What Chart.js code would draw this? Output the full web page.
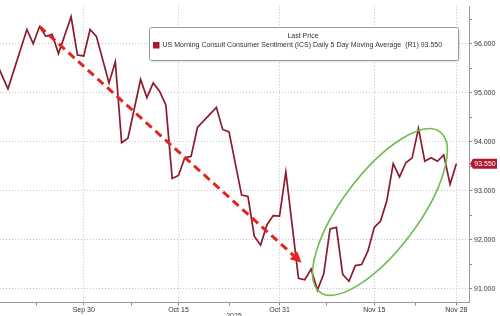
<!DOCTYPE html>
<html><head><meta charset="utf-8">
<script src="https://cdn.jsdelivr.net/npm/chart.js@4.4.0/dist/chart.umd.min.js"></script>
<style>html,body{margin:0;padding:0;background:#fff;overflow:hidden}#wrap{width:500px;height:316px;position:relative}</style>
</head><body><div id="wrap"><canvas id="c" width="500" height="316"></canvas></div>
<script>
// Day offsets relative to Sep 30, 2025
const dayOffsets = [-14,-12,-9,-8,-7,-6,-5,-4,-2,-1,0,1,2,4,5,6,7,9,10,11,12,13,14,15,16,17,18,21,22,23,25,26,27,28,29,30,31,32,34,35,36,37,38,39,40,41,42,43,44,45,46,47,48,49,50,51,52,53,54,55,56,57,58,59];
const sentiment = [95.66,95.08,96.29,96.00,96.35,96.15,96.19,95.80,96.55,95.77,95.75,96.29,96.15,95.20,95.63,93.98,94.07,95.27,94.90,95.20,95.03,94.75,93.25,93.31,93.67,93.70,94.29,94.70,94.25,94.20,92.91,92.88,92.07,91.89,92.30,92.49,92.48,93.38,91.21,91.18,91.40,90.97,91.30,92.22,92.25,91.29,91.15,91.47,91.49,91.77,92.25,92.38,92.80,93.55,93.28,93.57,93.67,94.27,93.60,93.67,93.60,93.73,93.13,93.55];
const tickDays = [0,15,31,46,59];
const tickLabels = ['Sep 30','Oct 15','Oct 31','Nov 15','Nov 28'];
const minorTickDays = [-7.5,7.5,23,38.5,52.5];
const yMajorTicks = [91,92,93,94,95,96];
const yMinorTicks = [91.5,92.5,93.5,94.5,95.5,96.5];
const lastValue = 93.550;
const legendTitle = 'Last Price';
const seriesName = 'US Morning Consult Consumer Sentiment (ICS) Daily 5 Day Moving Average  (R1) 93.550';
const yearLabel = '2025';
const arrowFrom = [-7, 96.35];
const arrowTo = [34.5, 91.53];
const ellipseTipA = [37.4, 90.93];
const ellipseTipB = [56.4, 94.20];

const FONT = '"Liberation Sans", Arial, sans-serif';

const overlay = {
  id: 'overlay',
  afterDatasetsDraw(chart) {
    const ctx = chart.ctx, xs = chart.scales.x, ys = chart.scales.y;
    const P = (p) => [xs.getPixelForValue(p[0]), ys.getPixelForValue(p[1])];
    ctx.save();
    // trend arrow
    const [x1,y1] = P(arrowFrom), [x2,y2] = P(arrowTo);
    const ang = Math.atan2(y2-y1, x2-x1);
    const headLen = 11, headW = 5.5;
    const bx = x2 - Math.cos(ang)*headLen, by = y2 - Math.sin(ang)*headLen;
    ctx.strokeStyle = '#e0261f'; ctx.lineWidth = 3; ctx.setLineDash([8,5]);
    ctx.beginPath(); ctx.moveTo(x1,y1); ctx.lineTo(bx,by); ctx.stroke();
    ctx.setLineDash([]);
    ctx.fillStyle = '#e0261f';
    ctx.beginPath(); ctx.moveTo(x2,y2);
    ctx.lineTo(bx + Math.sin(ang)*headW, by - Math.cos(ang)*headW);
    ctx.lineTo(bx - Math.sin(ang)*headW, by + Math.cos(ang)*headW);
    ctx.closePath(); ctx.fill();
    // ellipse
    const [ex1,ey1] = P(ellipseTipA), [ex2,ey2] = P(ellipseTipB);
    const cx = (ex1+ex2)/2, cy = (ey1+ey2)/2;
    const a = Math.hypot(ex2-ex1, ey2-ey1)/2, ea = Math.atan2(ey2-ey1, ex2-ex1);
    ctx.strokeStyle = '#6dbd4f'; ctx.lineWidth = 1.6;
    ctx.beginPath(); ctx.ellipse(cx, cy, a, 38, ea, 0, Math.PI*2); ctx.stroke();
    // legend box
    ctx.shadowColor = 'rgba(0,0,0,0.18)'; ctx.shadowOffsetX = 1; ctx.shadowOffsetY = 1; ctx.shadowBlur = 2;
    ctx.fillStyle = '#fff';
    ctx.beginPath(); ctx.roundRect(149.5, 27.5, 309, 33, 2); ctx.fill();
    ctx.shadowColor = 'transparent';
    ctx.strokeStyle = '#9a9a9a'; ctx.lineWidth = 1; ctx.stroke();
    ctx.fillStyle = '#333'; ctx.font = '7px ' + FONT; ctx.textBaseline = 'middle';
    ctx.textAlign = 'center'; ctx.fillText(legendTitle, 303, 36.5);
    ctx.textAlign = 'left'; ctx.fillText(seriesName, 162.5, 45.5);
    ctx.fillStyle = '#a8182c'; ctx.fillRect(153, 42, 6.5, 6.5);
    // last value tag
    const ty = ys.getPixelForValue(lastValue);
    ctx.fillStyle = '#b0182e';
    ctx.beginPath(); ctx.moveTo(470, ty); ctx.lineTo(473, ty-5); ctx.lineTo(497, ty-5); ctx.lineTo(497, ty+5); ctx.lineTo(473, ty+5); ctx.closePath(); ctx.fill();
    ctx.fillStyle = '#fff'; ctx.textAlign = 'center'; ctx.fillText(lastValue.toFixed(3), 485, ty+0.5);
    // year
    ctx.fillStyle = '#444'; ctx.textBaseline = 'top'; ctx.fillText(yearLabel, 234, 312.5);
    ctx.restore();
  }
};

new Chart(document.getElementById('c'), {
  type: 'line',
  data: {
    datasets: [{
      data: dayOffsets.map((d,i) => ({x: d, y: sentiment[i]})),
      borderColor: '#8c1a2e', borderWidth: 1.7, pointRadius: 0, tension: 0, fill: false
    }]
  },
  options: {
    responsive: false, devicePixelRatio: 1, animation: false,
    layout: {padding: 0},
    plugins: {legend: {display: false}, tooltip: {enabled: false}},
    scales: {
      x: {
        type: 'linear', min: -13.26, max: 61.0,
        afterBuildTicks: (s) => { s.ticks = tickDays.concat(minorTickDays).map(v => ({value: v})); },
        afterFit: (s) => { s.height = 13.5; },
        ticks: {
          autoSkip: false, maxRotation: 0, padding: 0, color: '#333',
          font: {size: 7, family: FONT},
          callback: (v) => { const i = tickDays.indexOf(v); return i >= 0 ? tickLabels[i] : ''; }
        },
        grid: {
          color: (c) => tickDays.includes(c.tick && c.tick.value) ? '#c4c4c4' : 'rgba(0,0,0,0)',
          tickColor: '#8a8a8a', tickLength: 3, lineWidth: 1
        },
        border: {display: true, color: '#9a9a9a', width: 1, dash: [1,2]}
      },
      y: {
        position: 'right', min: 90.716, max: 96.766,
        afterBuildTicks: (s) => { s.ticks = yMajorTicks.concat(yMinorTicks).map(v => ({value: v})); },
        afterFit: (s) => { s.width = 31; },
        ticks: {
          autoSkip: false, padding: 2, color: '#333',
          font: {size: 7, family: FONT},
          callback: (v) => yMajorTicks.includes(v) ? v.toFixed(3) : ''
        },
        grid: {
          color: (c) => yMajorTicks.includes(c.tick && c.tick.value) ? '#c4c4c4' : 'rgba(0,0,0,0)',
          tickColor: '#8a8a8a', tickLength: 3, lineWidth: 1
        },
        border: {display: true, color: '#9a9a9a', width: 1, dash: [1,2]}
      }
    }
  },
  plugins: [overlay]
});
</script>
</body></html>
